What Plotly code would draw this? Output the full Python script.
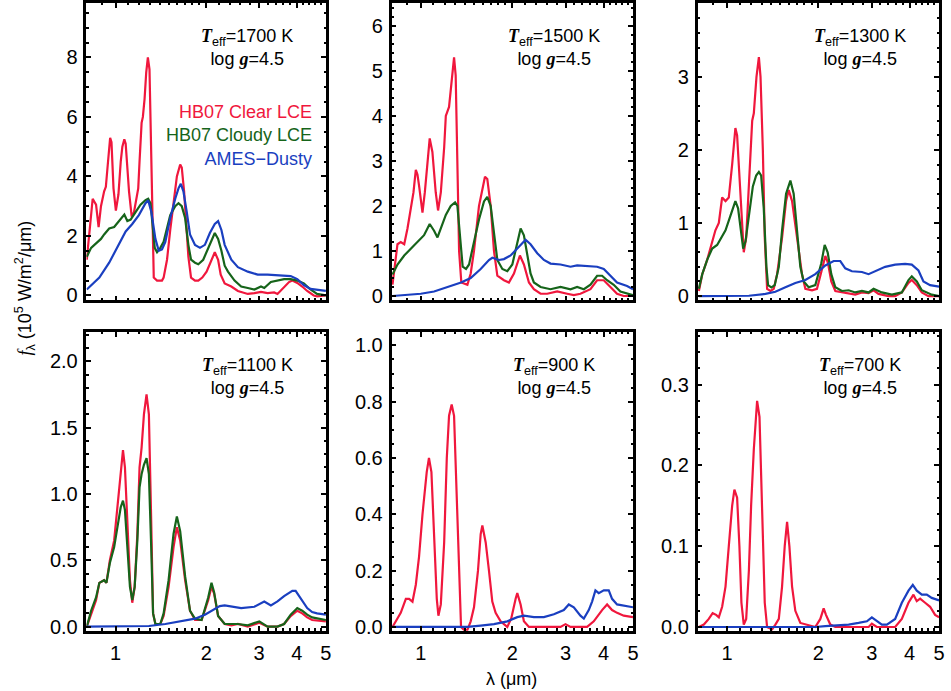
import plotly.graph_objects as go

# ---------------- data (wavelength in micron, flux in 1e5 W/m^2/um) ----------------
TEFF = [1700, 1500, 1300, 1100, 900, 700]
LOGG = 4.5
X_TICKS = [1, 2, 3, 4, 5]
X_MINOR = [0.8, 0.9, 1.1, 1.2, 1.3, 1.4, 1.5, 1.6, 1.7, 1.8, 1.9,
           2.2, 2.4, 2.6, 2.8, 3.2, 3.4, 3.6, 3.8, 4.2, 4.4, 4.6, 4.8]
Y_RANGES = [[-0.17, 9.83], [-0.10, 6.51], [-0.06, 4.01],
            [-0.03, 2.22], [-0.013, 1.047], [-0.0045, 0.365]]
Y_DTICK = [2, 1, 1, 0.5, 0.2, 0.1]
Y_MINOR = [0.5, 0.2, 0.2, 0.1, 0.05, 0.02]
Y_FORMAT = ["d", "d", "d", ".1f", ".1f", ".1f"]

# 1700 K
LAM_1700_CLEAR = [0.802, 0.818, 0.839, 0.850, 0.861, 0.878, 0.894, 0.916, 0.928, 0.940, 0.947, 0.959, 0.969,
                  0.984, 1.002, 1.022, 1.040, 1.053, 1.069, 1.080, 1.108, 1.131, 1.151, 1.171, 1.189, 1.201,
                  1.220, 1.232, 1.248, 1.264, 1.280, 1.296, 1.309, 1.322, 1.339, 1.373, 1.426, 1.444, 1.482,
                  1.519, 1.558, 1.598, 1.639, 1.659, 1.689, 1.715, 1.745, 1.781, 1.836, 1.883, 1.941, 2.006,
                  2.083, 2.136, 2.191, 2.235, 2.304, 2.424, 2.549, 2.750, 2.892, 3.042, 3.199, 3.365, 3.451,
                  3.630, 3.770, 3.866, 4.016, 4.170, 4.332, 4.556, 4.672, 5.0]
F_1700_CLEAR = [1.2, 2.2, 3.25, 3.15, 3.05, 2.3, 3.0, 3.5, 3.65, 4.3, 4.7, 5.3, 5.15,
                3.6, 2.85, 3.4, 4.5, 5.0, 5.25, 5.1, 3.5, 2.65, 2.8, 3.2, 3.6, 4.5,
                5.8, 6.0, 6.6, 7.5, 8.0, 7.6, 5.5, 2.5, 0.6, 0.5, 0.5, 0.6, 1.2,
                2.2, 3.2, 4.0, 4.4, 4.3, 3.5, 2.5, 1.3, 0.6, 0.5, 0.5, 0.6, 0.8,
                1.2, 1.45, 1.2, 0.7, 0.4, 0.3, 0.15, 0.05, 0.08, 0.12, 0.08, 0.1, 0.05,
                0.3, 0.45, 0.5, 0.42, 0.3, 0.15, 0.0, -0.03, 0.0]
LAM_1700_CLOUDY = [0.802, 0.829, 0.861, 0.894, 0.916, 0.952, 0.989, 1.027, 1.069, 1.094, 1.122, 1.165, 1.210,
                   1.257, 1.283, 1.306, 1.329, 1.349, 1.373, 1.408, 1.444, 1.482, 1.519, 1.578, 1.618, 1.659,
                   1.702, 1.745, 1.781, 1.836, 1.883, 1.955, 2.031, 2.110, 2.136, 2.191, 2.247, 2.304, 2.363,
                   2.485, 2.614, 2.750, 2.892, 3.042, 3.119, 3.281, 3.451, 3.630, 3.818, 4.016, 4.223, 4.442,
                   4.672, 5.0]
F_1700_CLOUDY = [1.3, 1.6, 1.75, 1.9, 2.05, 2.25, 2.3, 2.5, 2.72, 2.5, 2.55, 2.8, 3.05,
                 3.2, 3.25, 3.1, 2.4, 1.6, 1.45, 1.6, 1.8, 2.3, 2.7, 3.0, 3.1, 3.0,
                 2.6, 1.7, 1.2, 1.1, 1.05, 1.2, 1.6, 2.0, 2.1, 1.9, 1.5, 1.0, 0.8,
                 0.5, 0.3, 0.25, 0.2, 0.3, 0.25, 0.45, 0.5, 0.55, 0.55, 0.5, 0.4, 0.2,
                 0.05, 0.0]
LAM_1700_DUSTY = [0.802, 0.883, 0.952, 1.027, 1.080, 1.136, 1.195, 1.257, 1.283, 1.315, 1.356, 1.391, 1.426,
                  1.463, 1.519, 1.578, 1.618, 1.647, 1.680, 1.724, 1.767, 1.836, 1.907, 1.980, 2.057, 2.136,
                  2.191, 2.247, 2.304, 2.424, 2.549, 2.750, 2.966, 3.199, 3.539, 3.818, 4.016, 4.223, 4.442,
                  4.672, 5.0]
F_1700_DUSTY = [0.2, 0.6, 1.1, 1.7, 2.15, 2.4, 2.7, 3.1, 3.2, 2.8, 1.9, 1.5, 1.55,
                1.8, 2.6, 3.25, 3.6, 3.75, 3.5, 2.8, 2.05, 1.7, 1.6, 1.7, 2.1, 2.4,
                2.5, 2.2, 1.7, 1.2, 0.95, 0.8, 0.7, 0.7, 0.68, 0.65, 0.55, 0.35, 0.22,
                0.18, 0.15]

# 1500 K
LAM_1500_CLEAR = [0.806, 0.837, 0.858, 0.881, 0.903, 0.926, 0.945, 0.962, 0.974, 0.986, 1.012, 1.030, 1.051,
                  1.069, 1.091, 1.119, 1.139, 1.163, 1.193, 1.208, 1.238, 1.263, 1.286, 1.302, 1.319, 1.336,
                  1.359, 1.423, 1.459, 1.496, 1.554, 1.594, 1.626, 1.655, 1.698, 1.741, 1.786, 1.878, 1.950,
                  2.026, 2.120, 2.185, 2.270, 2.357, 2.480, 2.608, 2.813, 3.034, 3.191, 3.356, 3.621, 3.808,
                  4.006, 4.213, 4.431, 4.661, 5.0]
F_1500_CLEAR = [0.25, 1.15, 1.2, 1.15, 1.5, 2.0, 2.3, 2.8, 2.7, 2.45, 1.85, 2.3, 3.0,
                3.5, 3.2, 2.3, 1.9, 2.3, 3.3, 4.0, 4.2, 4.8, 5.3, 4.9, 3.0, 1.0,
                0.3, 0.25, 0.5, 1.0, 2.0, 2.4, 2.65, 2.6, 2.0, 1.0, 0.45, 0.35, 0.3,
                0.5, 0.9, 0.7, 0.3, 0.15, 0.05, 0.05, 0.1, 0.05, 0.02, 0.05, 0.15, 0.35,
                0.35, 0.2, 0.05, 0.0, 0.0]
LAM_1500_CLOUDY = [0.806, 0.837, 0.881, 0.926, 0.974, 1.024, 1.069, 1.105, 1.134, 1.163, 1.208, 1.254, 1.296,
                   1.319, 1.349, 1.373, 1.408, 1.441, 1.496, 1.554, 1.614, 1.655, 1.698, 1.741, 1.786, 1.855,
                   1.926, 2.001, 2.078, 2.131, 2.185, 2.241, 2.298, 2.357, 2.480, 2.674, 2.885, 3.112, 3.273,
                   3.443, 3.621, 3.808, 3.955, 4.108, 4.320, 4.544, 4.780, 5.0]
F_1500_CLOUDY = [0.48, 0.7, 0.9, 1.05, 1.2, 1.35, 1.6, 1.45, 1.3, 1.5, 1.8, 2.0, 2.08,
                 2.0, 1.2, 0.65, 0.6, 0.7, 1.2, 1.7, 2.1, 2.2, 2.0, 1.4, 0.8, 0.6,
                 0.55, 0.7, 1.2, 1.5, 1.35, 0.9, 0.5, 0.3, 0.2, 0.15, 0.2, 0.15, 0.2,
                 0.15, 0.25, 0.45, 0.45, 0.35, 0.25, 0.1, 0.05, 0.02]
LAM_1500_DUSTY = [0.806, 0.903, 0.999, 1.105, 1.223, 1.356, 1.459, 1.574, 1.676, 1.719, 1.809, 1.878, 1.975,
                  2.104, 2.213, 2.298, 2.418, 2.543, 2.674, 2.885, 3.112, 3.273, 3.530, 3.808, 4.006, 4.213,
                  4.431, 4.780, 5.0]
F_1500_DUSTY = [0.0, 0.02, 0.05, 0.1, 0.2, 0.3, 0.4, 0.6, 0.8, 0.85, 0.8, 0.82, 0.9,
                1.1, 1.25, 1.15, 0.95, 0.8, 0.72, 0.7, 0.65, 0.68, 0.67, 0.65, 0.6, 0.45,
                0.3, 0.22, 0.15]

# 1300 K
LAM_1300_CLEAR = [0.808, 0.829, 0.861, 0.894, 0.916, 0.940, 0.964, 0.989, 1.014, 1.040, 1.066, 1.080, 1.099,
                  1.122, 1.136, 1.157, 1.181, 1.211, 1.226, 1.251, 1.274, 1.290, 1.313, 1.332, 1.356, 1.391,
                  1.426, 1.463, 1.519, 1.566, 1.598, 1.639, 1.702, 1.767, 1.813, 1.907, 1.980, 2.067, 2.110,
                  2.153, 2.207, 2.276, 2.393, 2.517, 2.648, 2.785, 2.929, 3.042, 3.159, 3.407, 3.584, 3.770,
                  3.965, 4.066, 4.223, 4.387, 4.613, 5.0]
F_1300_CLEAR = [0.07, 0.3, 0.5, 0.75, 0.9, 1.0, 1.35, 1.3, 1.35, 1.8, 2.3, 2.2, 1.6,
                0.9, 0.6, 0.8, 1.5, 2.4, 2.5, 3.0, 3.27, 3.0, 2.0, 0.8, 0.1, 0.07,
                0.1, 0.3, 0.8, 1.3, 1.45, 1.3, 0.8, 0.3, 0.1, 0.08, 0.1, 0.4, 0.55,
                0.45, 0.2, 0.07, 0.05, 0.03, 0.02, 0.05, 0.04, 0.08, 0.03, 0.0, 0.0, 0.05,
                0.18, 0.22, 0.15, 0.05, 0.0, 0.0]
LAM_1300_CLOUDY = [0.808, 0.829, 0.861, 0.894, 0.928, 0.989, 1.027, 1.066, 1.088, 1.108, 1.131, 1.151, 1.181,
                   1.217, 1.248, 1.274, 1.296, 1.322, 1.349, 1.366, 1.401, 1.437, 1.482, 1.519, 1.566, 1.618,
                   1.659, 1.702, 1.745, 1.790, 1.859, 1.955, 2.046, 2.099, 2.147, 2.207, 2.276, 2.393, 2.517,
                   2.648, 2.785, 2.929, 3.042, 3.240, 3.495, 3.770, 3.965, 4.066, 4.223, 4.387, 4.730, 5.0]
F_1300_CLOUDY = [0.1, 0.3, 0.5, 0.65, 0.7, 0.9, 1.1, 1.3, 1.2, 0.9, 0.65, 0.75, 1.1,
                 1.5, 1.65, 1.7, 1.65, 1.2, 0.4, 0.15, 0.12, 0.15, 0.4, 0.9, 1.4, 1.58,
                 1.4, 0.9, 0.4, 0.2, 0.12, 0.15, 0.45, 0.7, 0.6, 0.3, 0.12, 0.07, 0.08,
                 0.05, 0.07, 0.05, 0.1, 0.05, 0.02, 0.05, 0.22, 0.27, 0.2, 0.08, 0.02, 0.0]
LAM_1300_DUSTY = [0.808, 1.040, 1.181, 1.339, 1.444, 1.558, 1.680, 1.813, 1.955, 2.110, 2.247, 2.363, 2.454,
                  2.581, 2.785, 2.929, 3.080, 3.322, 3.584, 3.866, 4.066, 4.277, 4.442, 4.672, 5.0]
F_1300_DUSTY = [0.0, 0.0, 0.005, 0.03, 0.06, 0.12, 0.18, 0.22, 0.3, 0.42, 0.48, 0.48, 0.38,
                0.34, 0.33, 0.3, 0.34, 0.4, 0.43, 0.44, 0.43, 0.35, 0.2, 0.15, 0.13]

# 1100 K (clear and cloudy share one wavelength list)
LAM_1100 = [0.802, 0.829, 0.861, 0.883, 0.916, 0.932, 0.957, 0.989, 1.014, 1.040, 1.058, 1.074, 1.094,
            1.116, 1.136, 1.157, 1.181, 1.201, 1.220, 1.242, 1.267, 1.290, 1.313, 1.332, 1.356, 1.408,
            1.444, 1.500, 1.558, 1.598, 1.639, 1.702, 1.767, 1.836, 1.931, 2.031, 2.083, 2.125, 2.191,
            2.304, 2.424, 2.549, 2.750, 3.003, 3.199, 3.451, 3.630, 3.818, 4.016, 4.170, 4.332, 4.499, 5.0]
F_1100_CLEAR = [0.0, 0.1, 0.2, 0.33, 0.35, 0.33, 0.5, 0.65, 0.9, 1.2, 1.33, 1.2, 0.8,
                0.35, 0.18, 0.3, 0.7, 1.2, 1.35, 1.6, 1.75, 1.6, 0.8, 0.1, 0.02, 0.02,
                0.08, 0.3, 0.6, 0.75, 0.65, 0.35, 0.12, 0.05, 0.05, 0.2, 0.3, 0.25, 0.08,
                0.02, 0.01, 0.02, 0.0, 0.03, 0.0, 0.0, 0.02, 0.08, 0.12, 0.1, 0.07, 0.05, 0.04]
F_1100_CLOUDY = [0.0, 0.12, 0.22, 0.33, 0.35, 0.33, 0.48, 0.6, 0.75, 0.9, 0.95, 0.88, 0.6,
                 0.3, 0.2, 0.3, 0.65, 1.05, 1.15, 1.22, 1.27, 1.15, 0.6, 0.1, 0.02, 0.02,
                 0.1, 0.35, 0.7, 0.83, 0.72, 0.38, 0.12, 0.06, 0.05, 0.22, 0.33, 0.26, 0.08,
                 0.02, 0.02, 0.02, 0.01, 0.04, 0.0, 0.0, 0.02, 0.09, 0.14, 0.12, 0.09, 0.07, 0.05]
LAM_1100_DUSTY = [0.802, 1.230, 1.290, 1.463, 1.659, 1.836, 1.980, 2.110, 2.219, 2.304, 2.424, 2.614, 2.892,
                  3.119, 3.281, 3.451, 3.630, 3.866, 3.965, 4.170, 4.332, 4.499, 4.672, 5.0]
F_1100_DUSTY = [0.0, 0.0, 0.005, 0.02, 0.04, 0.06, 0.09, 0.13, 0.155, 0.16, 0.15, 0.14, 0.15,
                0.19, 0.16, 0.19, 0.23, 0.27, 0.27, 0.2, 0.14, 0.11, 0.1, 0.09]

# 900 K
LAM_900_CLEAR = [0.806, 0.827, 0.858, 0.892, 0.914, 0.938, 0.962, 0.986, 1.012, 1.045, 1.063, 1.083, 1.105,
                 1.128, 1.142, 1.163, 1.193, 1.217, 1.238, 1.263, 1.286, 1.319, 1.356, 1.387, 1.423, 1.459,
                 1.496, 1.542, 1.574, 1.594, 1.635, 1.676, 1.719, 1.763, 1.831, 1.926, 1.985, 2.052, 2.078,
                 2.131, 2.185, 2.270, 2.885, 2.996, 3.112, 3.530, 3.713, 3.955, 4.108, 4.266, 4.431, 4.661, 5.0]
F_900_CLEAR = [0.0, 0.02, 0.05, 0.1, 0.1, 0.09, 0.15, 0.25, 0.4, 0.55, 0.6, 0.55, 0.35,
               0.1, 0.04, 0.08, 0.3, 0.6, 0.75, 0.79, 0.75, 0.4, 0.0, -0.01, -0.01, 0.02,
               0.07, 0.2, 0.33, 0.36, 0.3, 0.2, 0.09, 0.05, 0.02, 0.0, 0.03, 0.1, 0.12,
               0.08, 0.02, 0.0, 0.0, 0.01, 0.0, 0.0, 0.02, 0.06, 0.08, 0.06, 0.05, 0.04, 0.035]
LAM_900_DUSTY = [0.806, 1.423, 1.574, 1.741, 1.926, 2.078, 2.185, 2.357, 2.543, 2.743, 2.958, 3.072, 3.191,
                 3.356, 3.443, 3.575, 3.666, 3.760, 3.856, 4.006, 4.160, 4.266, 4.431, 4.661, 5.0]
F_900_DUSTY = [0.0, 0.0, 0.005, 0.01, 0.02, 0.035, 0.04, 0.035, 0.035, 0.045, 0.06, 0.08, 0.07,
               0.04, 0.03, 0.06, 0.09, 0.13, 0.12, 0.13, 0.13, 0.1, 0.08, 0.075, 0.07]

# 700 K
LAM_700_CLEAR = [0.808, 0.839, 0.871, 0.897, 0.921, 0.940, 0.964, 0.989, 1.014, 1.040, 1.058, 1.080, 1.099,
                 1.116, 1.136, 1.157, 1.181, 1.201, 1.226, 1.257, 1.280, 1.306, 1.332, 1.356, 1.408, 1.444,
                 1.482, 1.519, 1.550, 1.578, 1.606, 1.639, 1.680, 1.745, 1.836, 1.955, 2.031, 2.083, 2.120,
                 2.191, 2.276, 2.929, 3.003, 3.119, 3.584, 3.770, 3.965, 4.118, 4.223, 4.332, 4.499, 4.672,
                 4.853, 5.0]
F_700_CLEAR = [0.0, 0.003, 0.01, 0.017, 0.015, 0.012, 0.025, 0.05, 0.1, 0.15, 0.17, 0.16, 0.1,
               0.03, 0.003, 0.01, 0.07, 0.15, 0.22, 0.28, 0.26, 0.15, 0.03, 0.0, -0.003, 0.003,
               0.01, 0.05, 0.1, 0.13, 0.1, 0.05, 0.02, 0.005, 0.003, 0.0, 0.01, 0.023, 0.015,
               0.003, 0.0, 0.0, 0.004, 0.0, 0.0, 0.01, 0.03, 0.04, 0.032, 0.035, 0.03, 0.025,
               0.015, 0.012]
LAM_700_DUSTY = [0.808, 1.955, 2.110, 2.333, 2.517, 2.715, 2.892, 3.003, 3.119, 3.240, 3.365, 3.584, 3.770,
                 3.965, 4.097, 4.223, 4.387, 4.556, 4.730, 5.0]
F_700_DUSTY = [0.0, 0.0, 0.001, 0.002, 0.003, 0.005, 0.007, 0.012, 0.008, 0.003, 0.003, 0.01, 0.03,
               0.045, 0.052, 0.045, 0.04, 0.04, 0.036, 0.033]

PANELS = [
    [(LAM_1700_CLEAR, F_1700_CLEAR, "clear"), (LAM_1700_CLOUDY, F_1700_CLOUDY, "cloudy"), (LAM_1700_DUSTY, F_1700_DUSTY, "dusty")],
    [(LAM_1500_CLEAR, F_1500_CLEAR, "clear"), (LAM_1500_CLOUDY, F_1500_CLOUDY, "cloudy"), (LAM_1500_DUSTY, F_1500_DUSTY, "dusty")],
    [(LAM_1300_CLEAR, F_1300_CLEAR, "clear"), (LAM_1300_CLOUDY, F_1300_CLOUDY, "cloudy"), (LAM_1300_DUSTY, F_1300_DUSTY, "dusty")],
    [(LAM_1100, F_1100_CLEAR, "clear"), (LAM_1100, F_1100_CLOUDY, "cloudy"), (LAM_1100_DUSTY, F_1100_DUSTY, "dusty")],
    [(LAM_900_CLEAR, F_900_CLEAR, "clear"), (LAM_900_DUSTY, F_900_DUSTY, "dusty")],
    [(LAM_700_CLEAR, F_700_CLEAR, "clear"), (LAM_700_DUSTY, F_700_DUSTY, "dusty")],
]

# ---------------- styling ----------------
COLORS = {"clear": "#f0173d", "cloudy": "#16641a", "dusty": "#1a3fc0"}
NAMES = {"clear": "HB07 Clear LCE", "cloudy": "HB07 Cloudy LCE", "dusty": "AMES\u2212Dusty"}
W, H = 951, 691
FONT = "Liberation Sans, Arial, Helvetica, sans-serif"
SERIF = "Liberation Serif, Times New Roman, serif"
XDOM = [[87 / W, 328 / W], [394 / W, 637 / W], [702 / W, 945 / W]]
YDOM = [[1 - 303 / H, 1 - 2 / H], [1 - 637 / H, 1 - 335 / H]]

fig = go.Figure()
layout = dict(
    width=W, height=H, margin=dict(l=0, r=0, t=0, b=0),
    paper_bgcolor="white", plot_bgcolor="white", showlegend=False,
    font=dict(family=FONT, size=18, color="black"),
)
annotations = []

for i, series in enumerate(PANELS):
    row, col = divmod(i, 3)
    ax = "" if i == 0 else str(i + 1)
    for lam, flux, kind in series:
        fig.add_trace(go.Scatter(
            x=lam, y=flux, mode="lines", name=NAMES[kind],
            line=dict(color=COLORS[kind], width=2.2),
            xaxis="x" + ax, yaxis="y" + ax, hoverinfo="skip",
        ))
    common = dict(showgrid=False, zeroline=False, showline=True, linecolor="black",
                  linewidth=2.5, mirror="allticks", ticks="inside", tickcolor="black",
                  tickwidth=1.5, ticklen=5, tickfont=dict(size=20))
    layout["xaxis" + ax] = dict(
        common, type="log", domain=XDOM[col], anchor="y" + ax,
        range=[-0.09691, 0.69897], tickmode="array", tickvals=X_TICKS,
        ticktext=[str(v) for v in X_TICKS], showticklabels=(row == 1),
        ticklabelstandoff=3,
        minor=dict(tickmode="array", tickvals=X_MINOR, ticks="inside", ticklen=2.5,
                   tickwidth=1.5, tickcolor="black"),
    )
    layout["yaxis" + ax] = dict(
        common, domain=YDOM[row], anchor="x" + ax, range=Y_RANGES[i],
        tick0=0, dtick=Y_DTICK[i], tickformat=Y_FORMAT[i], ticklabelstandoff=2,
        minor=dict(tick0=0, dtick=Y_MINOR[i], ticks="inside", ticklen=2.5,
                   tickwidth=1.5, tickcolor="black"),
    )
    txt = ('<span style="font-family:%s"><b><i>T</i></b></span><sub>eff</sub>=%d K<br>'
           'log <span style="font-family:%s"><b><i>g</i></b></span>=%.1f') % (SERIF, TEFF[i], SERIF, LOGG)
    annotations.append(dict(
        text=txt, xref="x%s domain" % ax, yref="y%s domain" % ax,
        x=0.672, y=0.93, xanchor="center", yanchor="top", showarrow=False,
        align="center", font=dict(size=18, color="black"),
    ))

# legend-like labels in first panel
legend_txt = "<br>".join('<span style="color:%s">%s</span>' % (COLORS[k], NAMES[k])
                         for k in ["clear", "cloudy", "dusty"])
annotations.append(dict(
    text=legend_txt, xref="paper", yref="paper", x=316 / W, y=1 - 100 / H,
    xanchor="right", yanchor="top", align="right", showarrow=False, font=dict(size=18),
))
# axis titles
annotations.append(dict(
    text='<span style="font-family:%s"><i>f</i></span><sub>\u03bb</sub> (10<sup>5</sup> W/m<sup>2</sup>/\u03bcm)' % SERIF,
    xref="paper", yref="paper", x=25 / W, y=1 - 290 / H, textangle=-90,
    xanchor="center", yanchor="middle", showarrow=False, font=dict(size=18),
))
annotations.append(dict(
    text="\u03bb (\u03bcm)", xref="paper", yref="paper", x=515 / W, y=1 - 686 / H,
    xanchor="center", yanchor="middle", showarrow=False, font=dict(size=18),
))
layout["annotations"] = annotations
fig.update_layout(**layout)
fig.write_html("out.html")
